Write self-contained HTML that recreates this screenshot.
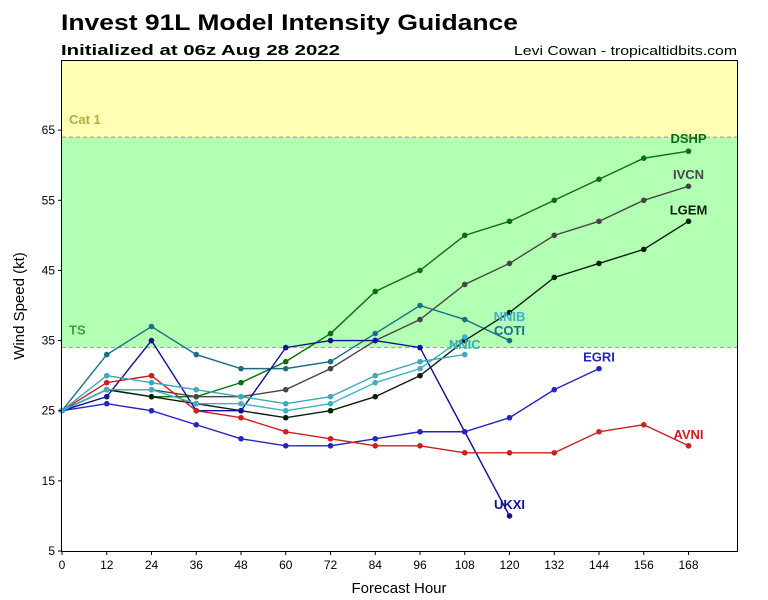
<!DOCTYPE html>
<html><head><meta charset="utf-8"><style>
html,body{margin:0;padding:0;background:#fff;}
svg{display:block;font-family:"Liberation Sans","DejaVu Sans",sans-serif;}
</style></head><body>
<svg id="chart" width="768" height="600" viewBox="0 0 768 600">
<text x="61" y="30" font-size="22" font-weight="bold" textLength="457" lengthAdjust="spacingAndGlyphs">Invest 91L Model Intensity Guidance</text>
<text x="61" y="55" font-size="15" font-weight="bold" textLength="279" lengthAdjust="spacingAndGlyphs">Initialized at 06z Aug 28 2022</text>
<text x="737" y="55" font-size="13" text-anchor="end" textLength="223" lengthAdjust="spacingAndGlyphs">Levi Cowan - tropicaltidbits.com</text>
<g id="bands"></g>
<g id="grid"></g>
<g id="series"></g>
<rect x="61.5" y="60.5" width="676" height="491" fill="none" stroke="#000"/>
<g id="axes"></g>
<text x="399" y="593" font-size="15" text-anchor="middle">Forecast Hour</text>
<text x="24" y="306" font-size="15" text-anchor="middle" transform="rotate(-90 24 306)">Wind Speed (kt)</text>
</svg>
<script>
const xTicks=[0,12,24,36,48,60,72,84,96,108,120,132,144,156,168];
const yTicks=[5,15,25,35,45,55,65];
const hours=[0,12,24,36,48,60,72,84,96,108,120,132,144,156,168];
const modelNames=["COTI","DSHP","IVCN","LGEM","UKXI","EGRI","AVNI","NNIB","NNIC"];
const coti=[25,33,37,33,31,31,32,36,40,38,35];
const dshp=[25,28,27,27,29,32,36,42,45,50,52,55,58,61,62];
const ivcn=[25,28,28,27,27,28,31,35,38,43,46,50,52,55,57];
const lgem=[25,28,27,26,25,24,25,27,30,35,39,44,46,48,52];
const ukxi=[25,27,35,25,25,34,35,35,34,22,10];
const egri=[25,26,25,23,21,20,20,21,22,22,24,28,31];
const avni=[25,29,30,25,24,22,21,20,20,19,19,19,22,23,20];
const nnib=[25,28,28,26,26,25,26,29,31,35.5];
const nnic=[25,30,29,28,27,26,27,30,32,33];
const seriesValues=[coti,dshp,ivcn,lgem,ukxi,egri,avni,nnib,nnic];
const colors=["#1a6f85","#0a700a","#454545","#0a200a","#10109a","#2525c0","#cc2020","#40b0c8","#40a8b8"];
const labelPos=[[120,35.8,"#1a6f85"],[168,63.2,"#0a700a"],[168,58,"#454545"],[168,53,"#0a200a"],[120,11,"#10109a"],[144,32,"#2525c0"],[168,21,"#cc2020"],[120,37.8,"#40b0c8"],[108,33.8,"#40a8b8"]];
const x0=62,x1=737,xMax=181,yTop=60,yBot=551,yMin=5,yMax=75;
const sx=h=>x0+(h/xMax)*(x1-x0);
const sy=v=>yBot-(v-yMin)/(yMax-yMin)*(yBot-yTop);
const NS="http://www.w3.org/2000/svg";
function mk(tag,attrs,parent){const e=document.createElementNS(NS,tag);for(const k in attrs)e.setAttribute(k,attrs[k]);parent.appendChild(e);return e;}
const bands=document.getElementById('bands');
let r=mk('rect',{x:x0,y:yTop,width:x1-x0,height:sy(64)-yTop,fill:'#ffffb3'},bands);


r=mk('rect',{x:x0,y:sy(64),width:x1-x0,height:sy(34)-sy(64),fill:'#b3ffb3'},bands);


[[64,'cat1-line'],[34,'ts-line']].forEach(([v,n])=>{const l=mk('line',{x1:x0,x2:x1,y1:sy(v),y2:sy(v),stroke:'#999','stroke-dasharray':'4,3'},bands);

});
let t=mk('text',{x:69,y:sy(64)-13,'font-size':13,'font-weight':'bold',fill:'#b0b040'},bands);t.textContent='Cat 1';


t=mk('text',{x:69,y:sy(34)-13,'font-size':13,'font-weight':'bold',fill:'#40a040'},bands);t.textContent='TS';


const axes=document.getElementById('axes');
xTicks.forEach(h=>{mk('line',{x1:sx(h),x2:sx(h),y1:yBot,y2:yBot+4,stroke:'#000'},axes);
const tt=mk('text',{x:sx(h),y:yBot+18,'font-size':12,'text-anchor':'middle'},axes);tt.textContent=h;

});
yTicks.forEach(v=>{mk('line',{x1:x0-4,x2:x0,y1:sy(v),y2:sy(v),stroke:'#000'},axes);
const tt=mk('text',{x:x0-7,y:sy(v)+4,'font-size':12,'text-anchor':'end'},axes);tt.textContent=v;

});
const sg=document.getElementById('series');
seriesValues.forEach((vals,i)=>{
const g=mk('g',{},sg);


const pts=vals.map((v,j)=>sx(hours[j])+','+sy(v)).join(' ');
mk('polyline',{points:pts,fill:'none',stroke:colors[i],'stroke-width':1.4},g);
vals.forEach((v,j)=>{const c=mk('circle',{cx:sx(hours[j]),cy:sy(v),r:2.8,fill:colors[i]},g);

});
const lp=labelPos[i];
const lt=mk('text',{x:sx(lp[0]),y:sy(lp[1]),'font-size':13,'font-weight':'bold','text-anchor':'middle',fill:lp[2]},g);
lt.textContent=modelNames[i];


});
</script>
</body></html>
